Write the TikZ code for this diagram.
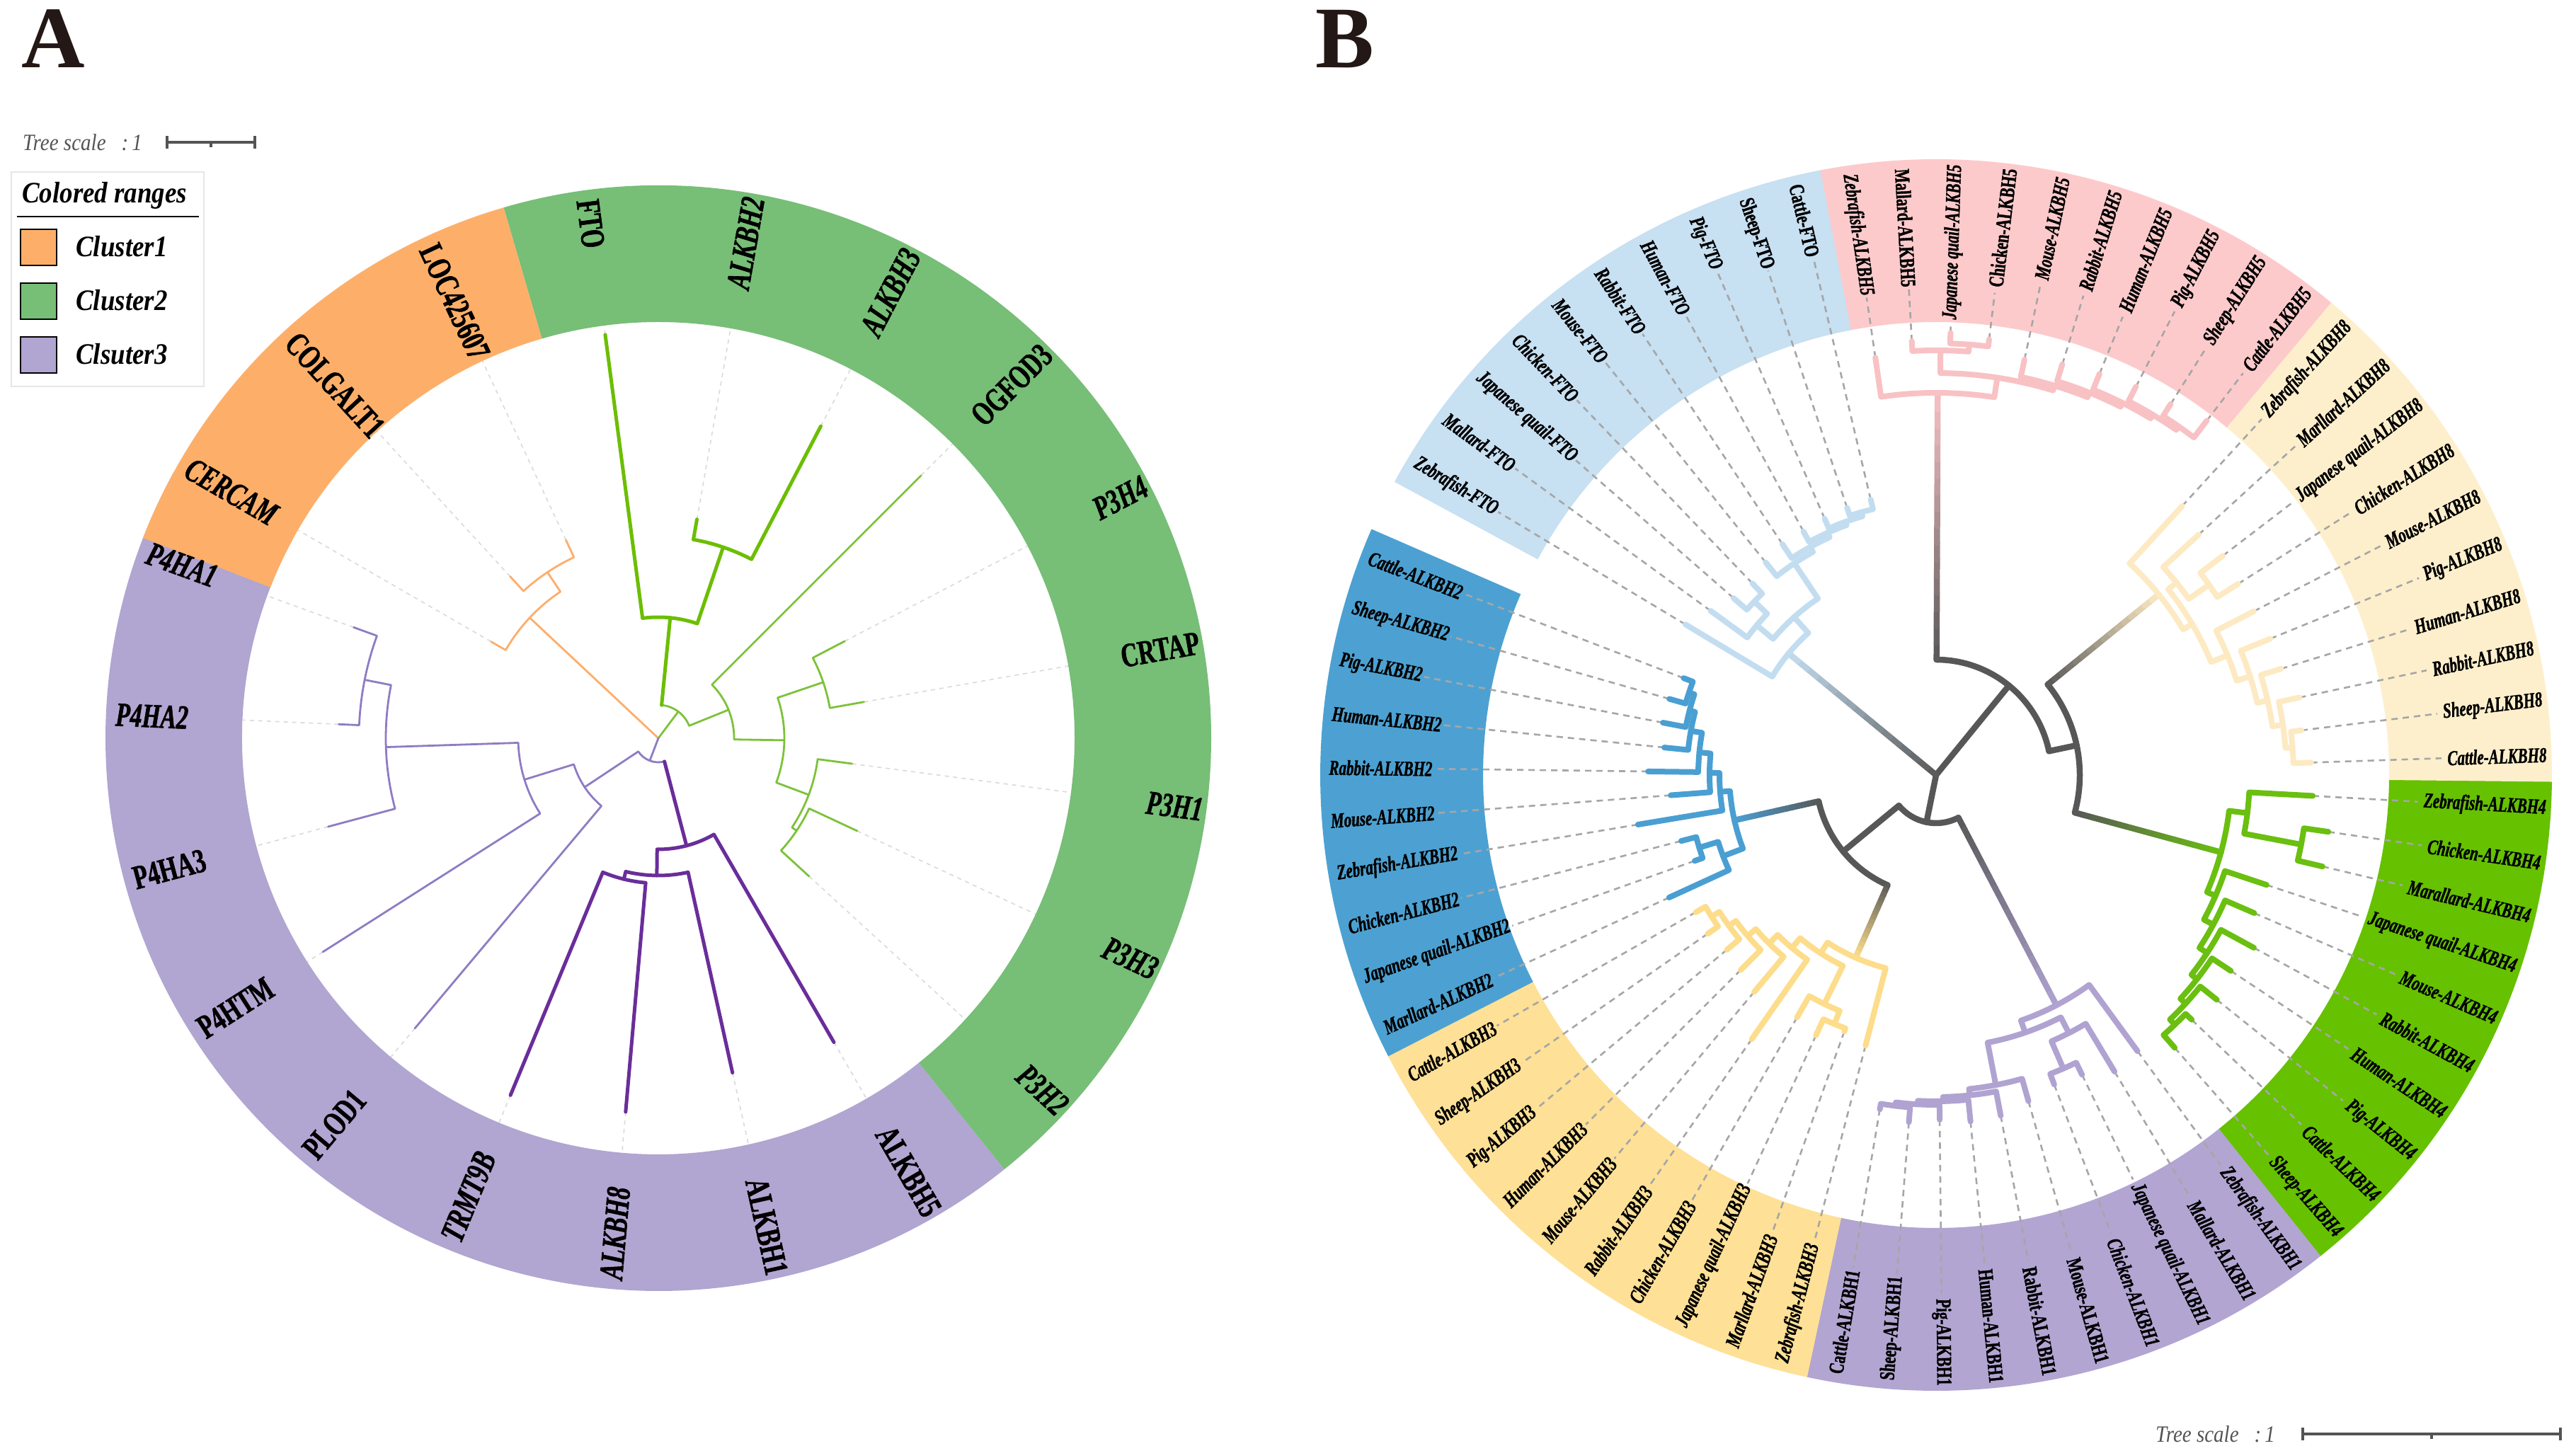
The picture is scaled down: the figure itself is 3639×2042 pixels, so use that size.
\documentclass[tikz,border=0pt]{standalone}
\usepackage{fontspec}
\setmainfont{Liberation Serif}
\newfontfamily\condA{Liberation Serif}[FakeStretch=0.70, FakeBold=1.2]
\newfontfamily\condL{Liberation Serif}[FakeStretch=0.88]

\definecolor{ringOrA}{HTML}{FDAF69}
\definecolor{ringGrA}{HTML}{77BE77}
\definecolor{ringPuA}{HTML}{B1A5D1}
\definecolor{brOr}{HTML}{FDAE6B}
\definecolor{brGrK}{HTML}{6CBE00}
\definecolor{brGrT}{HTML}{7CC23A}
\definecolor{brLP}{HTML}{8E7CC3}
\definecolor{brDP}{HTML}{6A2D9A}
\definecolor{rLB}{HTML}{C7E0F2}
\definecolor{rPk}{HTML}{FDCACB}
\definecolor{rLY}{HTML}{FEEFCC}
\definecolor{rGr}{HTML}{66C100}
\definecolor{rPu}{HTML}{B2A5D2}
\definecolor{rYe}{HTML}{FEE096}
\definecolor{rBl}{HTML}{4CA1D2}
\definecolor{cLB}{HTML}{C3DDF0}
\definecolor{cPk}{HTML}{F8C2C5}
\definecolor{cLY}{HTML}{FDEAC3}
\definecolor{cGr}{HTML}{6ABF10}
\definecolor{cPu}{HTML}{B0A3D1}
\definecolor{cYe}{HTML}{FDDD8B}
\definecolor{cBl}{HTML}{4A9FD2}
\definecolor{cBk}{HTML}{575757}
\definecolor{dashG}{HTML}{A6A6A6}
\definecolor{faintG}{HTML}{DADADA}
\definecolor{scaleG}{HTML}{545454}
\definecolor{letterC}{HTML}{231815}
\definecolor{legBorder}{HTML}{E6E6E6}

\tikzset{
  alab/.style={font=\condA\bfseries\fontsize{48}{50}\selectfont, inner sep=2pt, text=black},
  blab/.style={font=\condA\bfseries\fontsize{30}{32}\selectfont, inner sep=3pt, text=black},
  adash/.style={draw=faintG, line width=1.6pt, dash pattern=on 6pt off 6pt},
  bdash/.style={draw=dashG, line width=2.6pt, dash pattern=on 9pt off 7pt},
  aOr/.style={draw=brOr, line width=2.8pt, line cap=round, line join=round},
  aGt/.style={draw=brGrT, line width=2.8pt, line cap=round, line join=round},
  aGk/.style={draw=brGrK, line width=5pt, line cap=round, line join=round},
  aLp/.style={draw=brLP, line width=2.8pt, line cap=round, line join=round},
  aDk/.style={draw=brDP, line width=5pt, line cap=round, line join=round},
  bbr/.style={line width=8pt, line cap=round, line join=round},
  bB/.style={bbr, draw=cBl},
  bY/.style={bbr, draw=cYe},
  bP/.style={bbr, draw=cPu},
  bG/.style={bbr, draw=cGr},
  bL/.style={bbr, draw=cLY},
  bK/.style={bbr, draw=cPk},
  bC/.style={bbr, draw=cLB},
  bk/.style={line width=8.5pt, line cap=round, line join=round, draw=cBk},
  bkw/.style={line width=8.5pt, line cap=round},
  legtext/.style={font=\condL\bfseries\itshape\fontsize{42}{44}\selectfont, inner sep=0pt, anchor=west},
  scaletext/.style={font=\condL\itshape\fontsize{33}{35}\selectfont, text=scaleG, inner sep=0pt, anchor=west},
  scalebar/.style={draw=scaleG, line width=4.5pt},
  scaletick/.style={draw=scaleG, line width=4pt},
}

% annular sector: color, a1, a2, rin, rout
\newcommand{\Sector}[5]{\fill[#1] (#2:#4) arc[start angle=#2, end angle=#3, radius=#4] -- (#3:#5) arc[start angle=#3, end angle=#2, radius=#5] -- cycle;}
% arc at radius #2 from #3 to #4
\newcommand{\TArc}[4][]{\draw[#1] (#3:#2) arc[start angle=#3, end angle=#4, radius=#2];}
% radial line at angle #2 from #3 to #4
\newcommand{\TRad}[4][]{\draw[#1] (#2:#3) -- (#2:#4);}
% internal node: radius #2, child1 angle #3 radius #4, child2 angle #5 radius #6
\newcommand{\TNode}[6][]{\draw[#1] (#3:#4) -- (#3:#2) arc[start angle=#3, end angle=#5, radius=#2] -- (#5:#6);}
% gradient radial: angle #2, r1 #3, r2 #4, colour from #5 to #6
\newcommand{\TGrad}[6][]{%
  \foreach \k in {0,...,15}{%
    \pgfmathsetmacro\ga{#3+(#4-#3)*\k/16}%
    \pgfmathsetmacro\gb{#3+(#4-#3)*(\k+1)/16}%
    \pgfmathtruncatemacro\gp{(\k+0.5)*100/16}%
    \draw[#1, color=#6!\gp!#5] (#2:\ga) -- (#2:\gb);
  }}
% panel A label: name, angle, text, tip radius, shape
\newcommand{\ALab}[5]{%
  \pgfmathtruncatemacro\ASide{cos(#2)>=0 ? 1 : 0}%
  \ifnum\ASide=1
    \node[alab, rotate=#2, anchor=east] (#1) at (#2:778) {#5 #3};%
  \else
    \node[alab, rotate=#2+180, anchor=west] (#1) at (#2:778) {#5 #3};%
  \fi
  \draw[adash] (#2:#4) -- (#2:588);%
}
% panel B label: index, text, tip radius, shape
\newcommand{\BLab}[4]{%
  \pgfmathsetmacro\BAng{158+5.0725*#1}%
  \pgfmathtruncatemacro\BSide{cos(\BAng+1)>=0 ? 1 : 0}%
  \ifnum\BSide=1
    \node[blab, rotate=\BAng+1, anchor=east] (b#1) at (\BAng:866) {#4 #2};%
    \draw[bdash] (\BAng:#3) -- (b#1.west);%
  \else
    \node[blab, rotate=\BAng+181, anchor=west] (b#1) at (\BAng:866) {#4 #2};%
    \draw[bdash] (\BAng:#3) -- (b#1.east);%
  \fi
}

\begin{document}
\begin{tikzpicture}[x=1pt, y=1pt]
\useasboundingbox (0,0) rectangle (3639,2042);
\fill[white] (0,0) rectangle (3639,2042);

%================ PANEL A =================
\begin{scope}[shift={(930,999)}]
  \Sector{ringPuA}{151.25}{308.75}{588}{781}
  \Sector{ringGrA}{-51.25}{106.25}{588}{781}
  \Sector{ringOrA}{106.25}{158.75}{588}{781}

  \ALab{aFTO}{97.5}{FTO}{575}{\upshape}
  \ALab{aALKBHtwo}{80}{ALKBH2}{314}{\itshape}
  \ALab{aALKBHthree}{62.5}{ALKBH3}{497}{\itshape}
  \ALab{aOGFOD}{45}{OGFOD3}{525}{\upshape}
  \ALab{aPHfour}{27.5}{P3H4}{297}{\itshape}
  \ALab{aCRTAP}{10}{CRTAP}{295}{\upshape}
  \ALab{aPHone}{-7.5}{P3H1}{276}{\itshape}
  \ALab{aPHthree}{-25}{P3H3}{310}{\itshape}
  \ALab{aPHtwo}{-42.5}{P3H2}{289}{\itshape}
  \ALab{aALKBHfive}{-60}{ALKBH5}{496}{\upshape}
  \ALab{aALKBHone}{-77.5}{ALKBH1}{484}{\upshape}
  \ALab{aALKBHeight}{-95}{ALKBH8}{530}{\itshape}
  \ALab{aTRMT}{-112.5}{TRMT9B}{546}{\itshape}
  \ALab{aPLOD}{-130}{PLOD1}{535}{\upshape}
  \ALab{aPHTM}{-147.5}{P4HTM}{562}{\upshape}
  \ALab{aPHAthree}{-165}{P4HA3}{483}{\upshape}
  \ALab{aPHAtwo}{-182.5}{P4HA2}{452}{\itshape}
  \ALab{aPHAone}{-200}{P4HA1}{458}{\itshape}
  \ALab{aCERCAM}{150}{CERCAM}{273}{\itshape}
  \ALab{aCOLGALT}{132.5}{COLGALT1}{310}{\upshape}
  \ALab{aLOC}{115}{LOC425607}{309}{\upshape}

  % orange clade
  \TRad[aOr]{136.875}{0}{249}
  \TNode[aOr]{249}{123.75}{282}{150}{273}
  \TNode[aOr]{282}{115}{309}{132.5}{310}
  % green thin
  \TRad[aGt]{53.2}{0}{47}
  \TArc[aGt]{47}{22.03}{84.375}
  \TRad[aGt]{22.03}{47}{107}
  \TNode[aGt]{107}{45}{525}{-0.9375}{178}
  \TNode[aGt]{178}{18.75}{246}{-20.625}{227}
  \TNode[aGt]{246}{27.5}{297}{10}{295}
  \TNode[aGt]{227}{-7.5}{276}{-33.75}{235}
  \TNode[aGt]{235}{-25}{310}{-42.5}{289}
  % green thick
  \TRad[aGk]{84.375}{47}{171}
  \TNode[aGk]{171}{97.5}{575}{71.25}{285}
  \TNode[aGk]{285}{80}{314}{62.5}{497}
  % light purple
  \TRad[aLp]{249.14}{0}{34}
  \TArc[aLp]{34}{213.59}{284.69}
  \TRad[aLp]{213.59}{34}{125}
  \TNode[aLp]{125}{197.19}{198}{230}{535}
  \TNode[aLp]{198}{181.875}{385}{212.5}{562}
  \TNode[aLp]{385}{168.75}{423}{195}{483}
  \TNode[aLp]{423}{160}{458}{177.5}{452}
  % dark purple
  \TRad[aDk]{284.69}{34}{157}
  \TNode[aDk]{157}{269.375}{194}{300}{496}
  \TNode[aDk]{194}{256.25}{205}{282.5}{484}
  \TNode[aDk]{205}{247.5}{546}{265}{530}
\end{scope}

%================ PANEL B =================
\begin{scope}[shift={(2735,947)}, rotate=1]
  \Sector{rBl}{155.46}{206.25}{640}{870}
  \Sector{rYe}{206.19}{256.98}{640}{870}
  \Sector{rPu}{256.92}{307.71}{640}{870}
  \Sector{rGr}{307.65}{358.43}{640}{870}
  \Sector{rLY}{358.37}{409.16}{640}{870}
  \Sector{rPk}{409.10}{459.89}{640}{870}
  \Sector{rLB}{459.83}{510.57}{640}{870}

  \BLab{0}{Cattle-ALKBH2}{382}{\itshape}
  \BLab{1}{Sheep-ALKBH2}{392}{\itshape}
  \BLab{2}{Pig-ALKBH2}{393}{\itshape}
  \BLab{3}{Human-ALKBH2}{386}{\itshape}
  \BLab{4}{Rabbit-ALKBH2}{407}{\itshape}
  \BLab{5}{Mouse-ALKBH2}{376}{\itshape}
  \BLab{6}{Zebrafish-ALKBH2}{427}{\itshape}
  \BLab{7}{Chicken-ALKBH2}{372}{\itshape}
  \BLab{8}{Japanese quail-ALKBH2}{362}{\itshape}
  \BLab{9}{Marllard-ALKBH2}{415}{\itshape}
  \BLab{10}{Cattle-ALKBH3}{391}{\itshape}
  \BLab{11}{Sheep-ALKBH3}{393}{\itshape}
  \BLab{12}{Pig-ALKBH3}{385}{\itshape}
  \BLab{13}{Human-ALKBH3}{390}{\itshape}
  \BLab{14}{Mouse-ALKBH3}{400}{\itshape}
  \BLab{15}{Rabbit-ALKBH3}{455}{\itshape}
  \BLab{16}{Chicken-ALKBH3}{395}{\itshape}
  \BLab{17}{Japanese quail-ALKBH3}{405}{\itshape}
  \BLab{18}{Marllard-ALKBH3}{385}{\itshape}
  \BLab{19}{Zebrafish-ALKBH3}{395}{\itshape}
  \BLab{20}{Cattle-ALKBH1}{479}{\upshape}
  \BLab{21}{Sheep-ALKBH1}{492}{\upshape}
  \BLab{22}{Pig-ALKBH1}{487}{\upshape}
  \BLab{23}{Human-ALKBH1}{492}{\upshape}
  \BLab{24}{Rabbit-ALKBH1}{490}{\upshape}
  \BLab{25}{Mouse-ALKBH1}{479}{\upshape}
  \BLab{26}{Chicken-ALKBH1}{468}{\itshape}
  \BLab{27}{Japanese quail-ALKBH1}{471}{\itshape}
  \BLab{28}{Mallard-ALKBH1}{489}{\itshape}
  \BLab{29}{Zebrafish-ALKBH1}{483}{\itshape}
  \BLab{30}{Sheep-ALKBH4}{512}{\itshape}
  \BLab{31}{Cattle-ALKBH4}{500}{\itshape}
  \BLab{32}{Pig-ALKBH4}{508}{\itshape}
  \BLab{33}{Human-ALKBH4}{500}{\itshape}
  \BLab{34}{Rabbit-ALKBH4}{511}{\itshape}
  \BLab{35}{Mouse-ALKBH4}{490}{\itshape}
  \BLab{36}{Japanese quail-ALKBH4}{492}{\itshape}
  \BLab{37}{Marallard-ALKBH4}{561}{\itshape}
  \BLab{38}{Chicken-ALKBH4}{560}{\itshape}
  \BLab{39}{Zebrafish-ALKBH4}{533}{\itshape}
  \BLab{40}{Cattle-ALKBH8}{530}{\itshape}
  \BLab{41}{Sheep-ALKBH8}{520}{\itshape}
  \BLab{42}{Rabbit-ALKBH8}{525}{\itshape}
  \BLab{43}{Human-ALKBH8}{510}{\itshape}
  \BLab{44}{Pig-ALKBH8}{510}{\itshape}
  \BLab{45}{Mouse-ALKBH8}{505}{\itshape}
  \BLab{46}{Chicken-ALKBH8}{505}{\itshape}
  \BLab{47}{Japanese quail-ALKBH8}{510}{\itshape}
  \BLab{48}{Marllard-ALKBH8}{503}{\itshape}
  \BLab{49}{Zebrafish-ALKBH8}{515}{\itshape}
  \BLab{50}{Cattle-ALKBH5}{630}{\itshape}
  \BLab{51}{Sheep-ALKBH5}{620}{\itshape}
  \BLab{52}{Pig-ALKBH5}{617}{\itshape}
  \BLab{53}{Human-ALKBH5}{612}{\itshape}
  \BLab{54}{Rabbit-ALKBH5}{607}{\itshape}
  \BLab{55}{Mouse-ALKBH5}{600}{\itshape}
  \BLab{56}{Chicken-ALKBH5}{620}{\upshape}
  \BLab{57}{Japanese quail-ALKBH5}{625}{\itshape}
  \BLab{58}{Mallard-ALKBH5}{614}{\upshape}
  \BLab{59}{Zebrafish-ALKBH5}{596}{\itshape}
  \BLab{60}{Cattle-FTO}{400}{\upshape}
  \BLab{61}{Sheep-FTO}{398}{\upshape}
  \BLab{62}{Pig-FTO}{395}{\itshape}
  \BLab{63}{Human-FTO}{392}{\itshape}
  \BLab{64}{Rabbit-FTO}{392}{\itshape}
  \BLab{65}{Mouse-FTO}{385}{\itshape}
  \BLab{66}{Chicken-FTO}{375}{\itshape}
  \BLab{67}{Japanese quail-FTO}{380}{\itshape}
  \BLab{68}{Mallard-FTO}{394}{\itshape}
  \BLab{69}{Zebrafish-FTO}{413}{\itshape}

  % backbone
  \TRad[bk]{49.85}{0}{163}
  \TArc[bk]{163}{10.935}{88.76}
  \TRad[bk]{10.935}{163}{203}
  \TArc[bk]{203}{-16.17}{38.04}
  \TRad[bk]{257.5}{0}{68}
  \TArc[bk]{68}{218.44}{296.59}
  \TRad[bk]{218.44}{68}{170}
  \TArc[bk]{170}{191.65}{245.23}
  \TGrad[bkw]{139.49}{0}{270}{cBk}{cLB}
  \TGrad[bkw]{88.76}{163}{540}{cBk}{cPk}
  \TGrad[bkw]{38.04}{203}{405}{cBk}{cLY}
  \TGrad[bkw]{-16.17}{203}{417}{cBk}{cGr}
  \TGrad[bkw]{296.59}{68}{367}{cBk}{cPu}
  \TGrad[bkw]{191.65}{170}{292}{cBk}{cBl}
  \TGrad[bkw]{245.23}{170}{282}{cBk}{cYe}

  % blue ALKBH2
  \TNode[bB]{368}{158.00}{382}{163.07}{392}
  \TNode[bB]{360}{160.535}{368}{168.15}{393}
  \TNode[bB]{352}{164.34}{360}{173.22}{386}
  \TNode[bB]{336}{168.78}{352}{178.29}{407}
  \TNode[bB]{320}{173.54}{336}{183.36}{376}
  \TNode[bB]{306}{178.45}{320}{188.44}{427}
  \TNode[bB]{350}{193.51}{372}{198.58}{362}
  \TNode[bB]{322}{196.05}{350}{203.65}{415}
  \TNode[bB]{292}{183.45}{306}{199.85}{322}
  % yellow ALKBH3
  \TNode[bY]{375}{208.73}{391}{213.80}{393}
  \TNode[bY]{362}{211.27}{375}{218.87}{385}
  \TNode[bY]{350}{215.07}{362}{223.94}{390}
  \TNode[bY]{335}{219.5}{350}{229.02}{400}
  \TNode[bY]{318}{224.26}{335}{234.09}{455}
  \TNode[bY]{380}{244.23}{405}{249.31}{385}
  \TNode[bY]{360}{239.16}{395}{246.77}{380}
  \TNode[bY]{300}{229.18}{318}{242.97}{360}
  \TNode[bY]{282}{236.07}{300}{254.38}{395}
  % purple ALKBH1
  \TNode[bP]{471}{259.45}{479}{264.52}{492}
  \TNode[bP]{466}{261.99}{471}{269.60}{487}
  \TNode[bP]{461}{265.8}{466}{274.67}{492}
  \TNode[bP]{455}{270.23}{461}{279.74}{490}
  \TNode[bP]{446}{274.99}{455}{284.81}{479}
  \TNode[bP]{452}{289.89}{468}{294.96}{471}
  \TNode[bP]{410}{292.43}{452}{300.03}{489}
  \TNode[bP]{385}{279.9}{446}{296.23}{410}
  \TNode[bP]{367}{288.07}{385}{305.10}{483}
  % green ALKBH4
  \TNode[bG]{488}{310.18}{512}{315.25}{500}
  \TNode[bG]{478}{312.72}{488}{320.32}{508}
  \TNode[bG]{468}{316.52}{478}{325.39}{500}
  \TNode[bG]{458}{320.96}{468}{330.47}{511}
  \TNode[bG]{445}{325.71}{458}{335.54}{490}
  \TNode[bG]{430}{330.63}{445}{340.61}{492}
  \TNode[bG]{525}{345.68}{561}{350.76}{560}
  \TNode[bG]{443}{348.22}{525}{355.83}{533}
  \TNode[bG]{417}{335.62}{430}{352.03}{443}
  % light yellow ALKBH8
  \TNode[bL]{505}{0.90}{530}{5.97}{520}
  \TNode[bL]{495}{3.435}{505}{11.05}{525}
  \TNode[bL]{480}{7.24}{495}{16.12}{510}
  \TNode[bL]{465}{11.68}{480}{21.19}{510}
  \TNode[bL]{445}{16.44}{465}{26.26}{505}
  \TNode[bL]{470}{31.34}{505}{36.41}{510}
  \TNode[bL]{435}{33.88}{470}{41.48}{503}
  \TNode[bL]{420}{21.35}{445}{37.68}{435}
  \TNode[bL]{405}{29.52}{420}{46.55}{515}
  % pink ALKBH5
  \TNode[bK]{600}{51.63}{630}{56.70}{620}
  \TNode[bK]{594}{54.165}{600}{61.77}{617}
  \TNode[bK]{588}{57.97}{594}{66.84}{612}
  \TNode[bK]{582}{62.4}{588}{71.92}{607}
  \TNode[bK]{575}{67.16}{582}{76.99}{600}
  \TNode[bK]{610}{82.06}{620}{87.13}{625}
  \TNode[bK]{600}{84.6}{610}{92.21}{614}
  \TNode[bK]{568}{72.08}{575}{88.4}{600}
  \TNode[bK]{540}{80.24}{568}{97.28}{596}
  % light blue FTO
  \TNode[bC]{386}{102.35}{400}{107.42}{398}
  \TNode[bC]{380}{104.885}{386}{112.50}{395}
  \TNode[bC]{375}{108.69}{380}{117.57}{392}
  \TNode[bC]{368}{113.13}{375}{122.64}{392}
  \TNode[bC]{360}{117.89}{368}{127.71}{385}
  \TNode[bC]{355}{132.79}{375}{137.86}{380}
  \TNode[bC]{330}{135.33}{355}{142.93}{394}
  \TNode[bC]{300}{122.8}{360}{139.13}{330}
  \TNode[bC]{270}{130.97}{300}{148.00}{413}
\end{scope}

%================ LETTERS, LEGEND, SCALES =================
\node[anchor=base west, inner sep=0pt, text=letterC, font=\bfseries\fontsize{124}{124}\selectfont] (pA) at (30,1946) {A};
\node[anchor=base west, inner sep=0pt, text=letterC, font=\bfseries\fontsize{124}{124}\selectfont] (pB) at (1858,1946) {B};

\node[scaletext] (tsA) at (32,1841) {Tree scale\hspace{22pt}:\hspace{5pt}1};
\draw[scalebar] (236,1841) -- (360,1841);
\draw[scaletick] (236,1832) -- (236,1850);
\draw[scaletick] (360,1832) -- (360,1850);
\draw[scaletick] (298,1841) -- (298,1834);

\node[scaletext] (tsB) at (3045,16) {Tree scale\hspace{22pt}:\hspace{5pt}1};
\draw[scalebar] (3253,16) -- (3617,16);
\draw[scaletick] (3253,7) -- (3253,25);
\draw[scaletick] (3617,7) -- (3617,25);
\draw[scaletick] (3435,16) -- (3435,9);

\draw[draw=legBorder, line width=2pt, fill=white] (16,1799) rectangle (288,1496);
\node[legtext] (legT) at (31,1766) {Colored ranges};
\draw[black, line width=2.5pt] (24,1736) -- (281,1736);
\draw[fill=ringOrA, draw=black, line width=2.5pt] (29,1718) rectangle (80,1667);
\draw[fill=ringGrA, draw=black, line width=2.5pt] (29,1642) rectangle (80,1591);
\draw[fill=ringPuA, draw=black, line width=2.5pt] (29,1566) rectangle (80,1515);
\node[legtext] (leg1) at (107,1694) {Cluster1};
\node[legtext] (leg2) at (107,1618) {Cluster2};
\node[legtext] (leg3) at (107,1542) {Clsuter3};
\end{tikzpicture}
\end{document}
